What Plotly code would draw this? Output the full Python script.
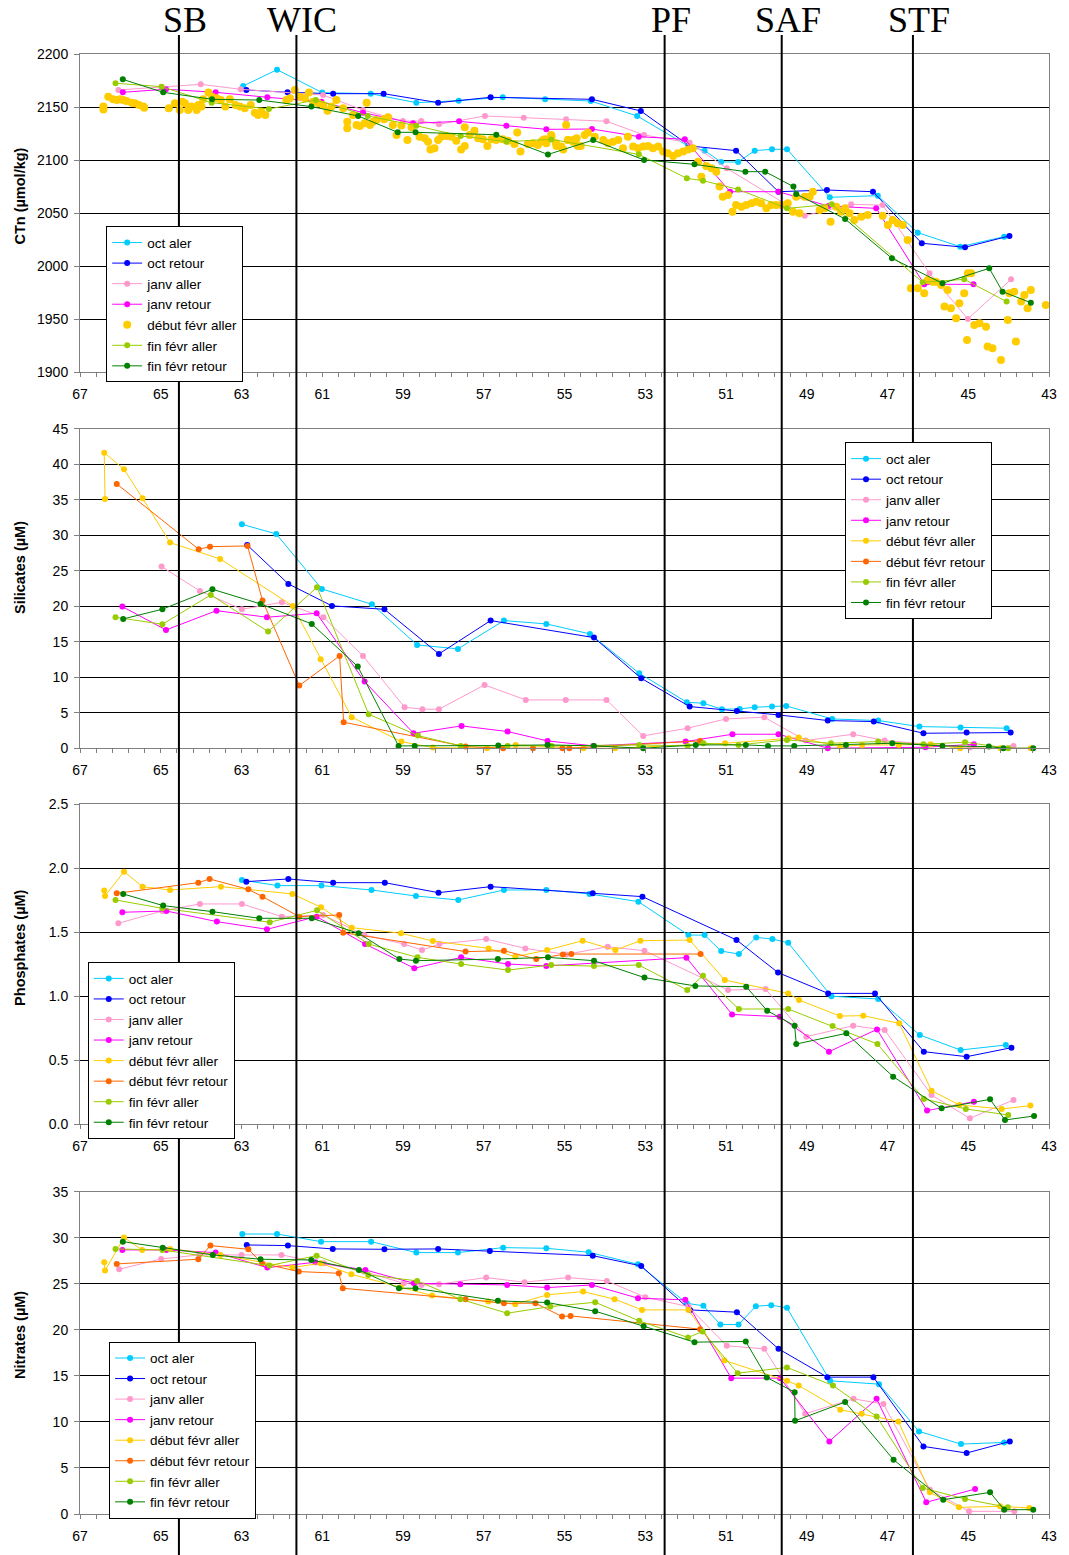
import plotly.graph_objects as go
from plotly.subplots import make_subplots

NAMES = ["oct aler", "oct retour", "janv aller", "janv retour",
         "début févr aller", "début févr retour", "fin févr aller", "fin févr retour"]
COLORS = ["#00CCFF", "#0000FF", "#FF99CC", "#FF00FF",
          "#FFCC00", "#FF6600", "#99CC00", "#008000"]

FRONTS = ["SB", "WIC", "PF", "SAF", "STF"]
FRONT_LAT = [64.55, 61.64, 52.52, 49.62, 46.37]

X_TICKS = [67, 65, 63, 61, 59, 57, 55, 53, 51, 49, 47, 45, 43]

# ---------------- CTn (umol/kg) ----------------
CTN_OCT_ALLER_LAT = [62.96, 62.12, 61.00, 59.80, 58.67, 57.62, 56.53, 55.48, 54.35, 53.20, 51.94, 51.53, 51.12, 50.70, 50.29, 49.86, 49.49, 48.43, 47.24, 46.25, 45.20, 44.11]
CTN_OCT_ALLER = [2169.8, 2185.2, 2163.6, 2162.6, 2154.1, 2156.0, 2159.2, 2157.3, 2155.7, 2141.6, 2113.3, 2108.9, 2098.2, 2098.2, 2108.9, 2110.2, 2110.2, 2064.9, 2066.5, 2031.6, 2018.4, 2027.8]
CTN_OCT_RETOUR_LAT = [62.88, 61.86, 60.73, 59.48, 58.13, 56.83, 54.32, 53.11, 51.90, 50.75, 49.70, 48.50, 47.36, 46.15, 45.08, 43.98]
CTN_OCT_RETOUR = [2166.1, 2163.9, 2162.6, 2162.6, 2154.1, 2159.2, 2157.3, 2146.3, 2113.3, 2108.9, 2070.2, 2071.8, 2070.2, 2021.6, 2017.8, 2028.5]
CTN_JANV_ALLER_LAT = [66.05, 64.98, 64.01, 63.02, 60.98, 59.99, 59.00, 58.55, 58.11, 56.97, 56.01, 54.96, 53.96, 53.03, 51.90, 50.98, 49.05, 47.90, 47.12, 45.96, 45.01, 43.94]
CTN_JANV_ALLER = [2166.1, 2169.2, 2171.4, 2166.7, 2161.3, 2147.2, 2136.8, 2136.8, 2133.7, 2141.6, 2140.0, 2138.5, 2136.6, 2123.7, 2116.4, 2092.2, 2047.6, 2058.3, 2057.6, 1993.3, 1950.2, 1987.6]
CTN_JANV_RETOUR_LAT = [65.94, 64.87, 63.64, 62.36, 61.02, 59.99, 58.75, 57.61, 56.44, 55.45, 54.32, 53.16, 52.02, 50.90, 49.70, 48.46, 47.28, 46.09, 44.87]
CTN_JANV_RETOUR = [2163.9, 2166.8, 2163.9, 2159.2, 2155.1, 2144.7, 2134.7, 2136.5, 2132.4, 2129.0, 2129.3, 2122.1, 2119.6, 2070.2, 2070.2, 2056.7, 2054.5, 1982.9, 1982.9]
CTN_DFEV_ALLER_LAT = [66.42, 66.42, 66.30, 66.18, 66.09, 66.01, 65.93, 65.85, 65.72, 65.64, 65.54, 65.43, 65.41, 64.80, 64.65, 64.53, 64.47, 64.40, 64.32, 64.24, 64.11, 64.07, 63.99, 63.95, 63.82, 63.73, 63.62, 63.51, 63.40, 63.29, 63.15, 63.04, 62.92, 62.77, 62.67, 62.59, 62.51, 62.41, 61.89, 61.80, 61.68, 61.56, 61.43, 61.33, 61.23, 61.10, 60.98, 60.87, 60.77, 60.65, 60.48, 60.38, 60.38, 60.24, 60.15, 60.07, 59.95, 59.90, 59.82, 59.74, 59.66, 59.47, 59.37, 59.25, 59.16, 59.04, 58.89, 58.79, 58.59, 58.46, 58.38, 58.32, 58.22, 58.13, 58.05, 57.93, 57.80, 57.68, 57.56, 57.47, 57.47, 57.35, 57.23, 57.14, 57.02, 56.91, 56.81, 56.69, 56.53, 56.40, 56.24, 56.17, 56.09, 55.91, 55.78, 55.66, 55.58, 55.49, 55.33, 55.21, 55.08, 54.96, 54.92, 54.79, 54.67,
                      55.53, 55.45, 55.32, 55.20, 55.03, 54.91, 54.79, 54.70, 54.60, 54.50, 54.42, 54.25, 54.04, 53.92, 53.80, 53.67, 53.55, 53.43, 53.30, 53.18, 53.05, 52.93, 52.81, 52.68, 52.56, 52.44, 52.31, 52.19, 52.06, 51.94, 51.82, 51.69, 51.61, 51.49, 51.36, 51.24, 51.16, 51.08, 50.95, 50.84, 50.75, 50.62, 50.50, 50.37, 50.25, 50.13, 50.00, 49.88, 49.76, 49.63, 49.47, 49.34, 49.26, 49.18, 49.05, 48.93, 48.85, 48.68, 48.56, 48.41, 48.27, 48.15, 48.05, 47.94, 47.82, 47.65, 47.49, 47.12, 46.99, 46.87, 46.75, 46.62, 46.50, 46.42, 46.25, 46.09, 46.00, 45.88, 45.80, 45.67, 45.59, 45.51, 45.43, 45.30, 45.22, 45.10, 45.01, 44.93, 45.03, 44.85, 44.72, 44.56, 44.52, 44.40, 44.19, 44.02, 43.98, 43.86, 43.82, 43.69, 43.61, 43.53, 43.45, 43.08]
CTN_DFEV_ALLER = [2150.4, 2147.8, 2159.8, 2157.3, 2156.6, 2157.3, 2156.6, 2155.7, 2154.1, 2153.5, 2151.9, 2150.4, 2149.4, 2148.8, 2153.5, 2147.2, 2155.1, 2153.5, 2147.2, 2150.4, 2147.2, 2151.9, 2150.4, 2157.3, 2163.6, 2159.8, 2158.2, 2156.6, 2150.4, 2157.3, 2151.9, 2150.4, 2148.8, 2151.9, 2144.7, 2142.5, 2145.6, 2142.5, 2156.6, 2158.2, 2166.1, 2159.8, 2158.2, 2163.6, 2155.1, 2153.5, 2151.9, 2146.6, 2150.4, 2156.6, 2148.8, 2136.2, 2129.9, 2142.5, 2133.1, 2132.1, 2134.7, 2154.1, 2133.1, 2136.2, 2137.8, 2138.4, 2140.3, 2133.1, 2123.7, 2132.5, 2118.9, 2130.9, 2122.1, 2120.5, 2117.4, 2110.1, 2111.1, 2118.9, 2122.1, 2122.7, 2122.1, 2118.3, 2110.1, 2113.3, 2130.9, 2123.7, 2127.7, 2120.5, 2119.6, 2113.3, 2119.6, 2118.9, 2119.6, 2118.3, 2115.2, 2125.9, 2108.0, 2115.2, 2115.8, 2114.2, 2117.4, 2119.6, 2123.7, 2115.8, 2112.7, 2133.1, 2118.9, 2118.9, 2113.3,
                  2118.9, 2115.8, 2122.1, 2113.3, 2110.1, 2118.9, 2117.4, 2120.5, 2113.3, 2123.7, 2125.9, 2122.1, 2118.9, 2115.8, 2117.4, 2118.9, 2111.1, 2122.1, 2112.7, 2111.1, 2112.7, 2113.3, 2111.1, 2112.7, 2108.0, 2106.4, 2103.9, 2106.4, 2108.0, 2110.1, 2111.1, 2098.5, 2084.4, 2094.4, 2092.2, 2089.1, 2075.0, 2065.5, 2067.1, 2051.4, 2057.7, 2056.1, 2057.7, 2059.3, 2060.8, 2059.3, 2054.5, 2057.7, 2057.7, 2057.7, 2059.3, 2051.4, 2065.5, 2049.8, 2065.5, 2065.5, 2070.2, 2053.0, 2054.5, 2042.0, 2056.1, 2051.4, 2054.5, 2049.8, 2043.5, 2046.7, 2048.3, 2047.6, 2038.8, 2043.5, 2040.4, 2038.8, 2024.7, 1979.1, 1979.1, 1974.4, 1986.9, 1985.4, 1985.4, 1982.3, 1961.9, 1977.6, 1960.3, 1950.9, 1965.0, 1974.4, 1993.3, 1993.3, 1930.5, 1944.6, 1946.2, 1943.0, 1924.2, 1922.6, 1911.6, 1949.3, 1974.4, 1976.0, 1928.9, 1966.6, 1972.9, 1960.3, 1977.6, 1963.4]
CTN_FFEV_ALLER_LAT = [66.12, 64.98, 63.74, 62.32, 61.16, 59.87, 58.67, 57.57, 56.44, 55.33, 53.16, 51.97, 51.57, 50.70, 49.49, 48.38, 46.13, 45.10, 44.05]
CTN_FFEV_ALLER = [2172.4, 2169.2, 2154.1, 2148.2, 2156.6, 2141.6, 2132.4, 2122.7, 2117.4, 2119.5, 2105.4, 2082.8, 2080.6, 2072.4, 2054.5, 2058.3, 1984.8, 1987.6, 1966.6]
CTN_FFEV_RETOUR_LAT = [65.94, 64.94, 63.73, 62.56, 61.27, 60.11, 59.13, 58.69, 56.69, 55.41, 54.29, 53.03, 51.78, 50.52, 50.03, 49.33, 49.26, 48.05, 46.89, 45.64, 44.48, 44.15, 43.45]
CTN_FFEV_RETOUR = [2176.1, 2163.9, 2157.3, 2156.6, 2150.4, 2141.6, 2126.2, 2126.2, 2123.9, 2105.3, 2118.9, 2100.1, 2096.0, 2089.1, 2089.1, 2075.0, 2068.1, 2044.5, 2007.4, 1983.9, 1998.0, 1976.0, 1965.6]

# ---------------- Silicates (uM) ----------------
SI_OCT_ALLER_LAT = [62.99, 62.14, 61.01, 59.77, 58.65, 57.64, 56.50, 55.45, 54.37, 53.15, 51.97, 51.56, 51.10, 50.66, 50.29, 49.86, 49.51, 48.37, 47.23, 46.21, 45.19, 44.05]
SI_OCT_ALLER = [31.56, 30.2, 22.45, 20.29, 14.56, 14.0, 17.99, 17.52, 16.11, 10.57, 6.48, 6.34, 5.50, 5.54, 5.78, 5.87, 5.96, 4.13, 3.90, 3.05, 2.91, 2.82]
SI_OCT_RETOUR_LAT = [62.86, 61.84, 60.76, 59.46, 58.11, 56.83, 54.27, 53.10, 51.90, 50.73, 49.70, 48.48, 47.34, 46.11, 45.04, 43.95]
SI_OCT_RETOUR = [28.65, 23.16, 20.06, 19.58, 13.29, 17.99, 15.59, 9.86, 5.87, 5.26, 4.70, 3.90, 3.76, 2.11, 2.21, 2.21]
SI_JANV_ALLER_LAT = [64.98, 64.03, 62.99, 62.00, 60.97, 59.99, 58.96, 58.52, 58.11, 56.98, 55.96, 54.97, 53.96, 53.05, 51.95, 51.00, 50.05, 49.03, 47.85, 47.07, 44.96, 43.88]
SI_JANV_ALLER = [25.6, 22.17, 19.58, 20.57, 18.46, 13.01, 5.78, 5.50, 5.50, 8.92, 6.81, 6.81, 6.81, 1.74, 2.82, 4.13, 4.37, 1.08, 1.97, 1.08, 0.09, 0.33]
SI_JANV_RETOUR_LAT = [65.95, 64.87, 63.62, 62.37, 61.14, 59.95, 58.74, 57.55, 56.41, 55.42, 54.29, 52.00, 50.84, 49.70, 48.48, 46.06, 44.86]
SI_JANV_RETOUR = [19.96, 16.67, 19.39, 18.46, 19.02, 9.39, 2.11, 3.15, 2.35, 1.03, 0.33, 0.94, 1.97, 1.97, 0.0, 0.14, 0.56]
SI_DFEV_ALLER_LAT = [66.38, 66.40, 65.91, 65.45, 64.77, 63.53, 61.73, 61.04, 60.27, 59.04, 58.26, 56.92, 56.21, 54.53, 53.75, 51.02, 49.45, 49.20, 48.17, 47.63, 46.72, 45.93, 45.20, 44.20, 43.45]
SI_DFEV_ALLER = [35.13, 41.66, 39.31, 35.23, 28.98, 26.68, 20.06, 12.54, 4.37, 0.94, 0.09, 0.0, 0.47, 0.0, 0.0, 0.70, 1.41, 1.50, 0.23, 0.47, 0.47, 0.56, 0.0, 0.0, 0.0]
SI_DFEV_RETOUR_LAT = [66.09, 64.06, 63.78, 62.85, 62.48, 61.57, 60.57, 60.47, 57.45, 56.52, 55.78, 55.05, 54.88, 51.64]
SI_DFEV_RETOUR = [37.25, 28.04, 28.41, 28.51, 20.81, 8.83, 13.01, 3.66, 0.23, 0.0, 0.0, 0.0, 0.0, 1.03]
SI_FFEV_ALLER_LAT = [66.12, 64.96, 63.76, 62.34, 61.13, 59.85, 58.63, 57.57, 56.41, 55.32, 53.15, 51.95, 51.56, 50.69, 49.49, 48.40, 47.23, 46.11, 45.08, 44.01]
SI_FFEV_ALLER = [18.46, 17.47, 21.61, 16.44, 22.69, 4.79, 1.78, 0.33, 0.33, 0.33, 0.47, 0.33, 0.70, 0.47, 1.17, 0.70, 0.94, 0.56, 0.85, 0.0]
SI_FFEV_RETOUR_LAT = [65.93, 64.96, 63.72, 62.53, 61.26, 60.12, 59.11, 58.71, 56.64, 55.42, 54.27, 53.05, 51.75, 50.51, 49.96, 49.31, 48.03, 46.88, 45.64, 44.49, 44.13, 43.39]
SI_FFEV_RETOUR = [18.22, 19.59, 22.40, 20.34, 17.52, 11.51, 0.33, 0.33, 0.38, 0.47, 0.33, 0.0, 0.47, 0.47, 0.33, 0.33, 0.47, 0.70, 0.33, 0.23, 0.0, 0.0]

# ---------------- Phosphates (uM) ----------------
PO4_OCT_ALLER_LAT = [62.99, 62.11, 61.02, 59.78, 58.68, 57.63, 56.50, 55.45, 54.38, 53.17, 51.93, 51.53, 51.12, 50.68, 50.25, 49.85, 49.46, 48.39, 47.23, 46.20, 45.19, 44.07]
PO4_OCT_ALLER = [1.907, 1.863, 1.863, 1.829, 1.782, 1.751, 1.829, 1.829, 1.798, 1.738, 1.477, 1.477, 1.352, 1.329, 1.459, 1.446, 1.417, 1.000, 0.978, 0.697, 0.580, 0.619]
PO4_OCT_RETOUR_LAT = [62.88, 61.84, 60.73, 59.45, 58.12, 56.83, 54.30, 53.07, 50.74, 49.71, 48.47, 47.31, 46.10, 45.04, 43.93]
PO4_OCT_RETOUR = [1.894, 1.915, 1.886, 1.886, 1.808, 1.855, 1.803, 1.777, 1.439, 1.184, 1.022, 1.022, 0.567, 0.528, 0.598]
PO4_JANV_ALLER_LAT = [66.05, 64.96, 64.03, 62.99, 62.00, 60.98, 59.96, 58.97, 58.53, 58.10, 56.94, 55.97, 54.96, 53.93, 53.02, 50.95, 50.02, 49.01, 47.85, 47.07, 45.91, 44.96, 43.88]
PO4_JANV_ALLER = [1.569, 1.665, 1.720, 1.720, 1.621, 1.634, 1.478, 1.407, 1.360, 1.407, 1.446, 1.373, 1.326, 1.386, 1.355, 1.048, 1.056, 0.684, 0.770, 0.736, 0.229, 0.047, 0.190]
PO4_JANV_RETOUR_LAT = [65.95, 64.86, 63.61, 62.37, 61.14, 59.94, 58.72, 57.56, 56.40, 55.45, 51.98, 50.85, 49.67, 48.45, 47.26, 46.02, 44.86]
PO4_JANV_RETOUR = [1.655, 1.665, 1.582, 1.522, 1.621, 1.407, 1.218, 1.303, 1.251, 1.236, 1.301, 0.858, 0.840, 0.567, 0.741, 0.107, 0.177]
PO4_DFEV_ALLER_LAT = [66.40, 66.38, 65.91, 65.45, 64.77, 63.51, 61.74, 61.03, 60.27, 59.05, 58.26, 56.88, 56.22, 55.43, 54.55, 53.74, 53.12, 51.90, 51.03, 49.46, 49.19, 48.18, 47.60, 46.71, 45.91, 45.22, 44.17, 43.46]
PO4_DFEV_ALLER = [1.824, 1.782, 1.972, 1.855, 1.829, 1.855, 1.798, 1.694, 1.535, 1.491, 1.431, 1.373, 1.308, 1.360, 1.433, 1.360, 1.433, 1.438, 1.126, 1.022, 0.970, 0.845, 0.848, 0.788, 0.263, 0.151, 0.120, 0.146]
PO4_DFEV_RETOUR_LAT = [66.09, 64.07, 63.79, 62.83, 62.48, 61.57, 60.58, 60.48, 57.45, 56.50, 55.70, 55.04, 54.83, 51.63]
PO4_DFEV_RETOUR = [1.803, 1.886, 1.915, 1.834, 1.777, 1.621, 1.634, 1.496, 1.348, 1.355, 1.290, 1.326, 1.329, 1.329]
PO4_FFEV_ALLER_LAT = [66.12, 64.96, 62.30, 61.13, 59.85, 58.64, 57.56, 56.40, 55.33, 54.27, 53.16, 51.96, 51.57, 50.68, 49.46, 48.36, 47.25, 46.10, 45.06, 44.01]
PO4_FFEV_ALLER = [1.751, 1.686, 1.577, 1.670, 1.407, 1.303, 1.251, 1.204, 1.243, 1.235, 1.243, 1.048, 1.160, 0.900, 0.900, 0.767, 0.627, 0.198, 0.120, 0.073]
PO4_FFEV_RETOUR_LAT = [65.93, 64.94, 63.72, 62.56, 61.26, 60.10, 59.09, 58.68, 56.65, 55.41, 54.27, 53.02, 51.76, 50.50, 49.98, 49.30, 49.26, 48.02, 46.86, 45.66, 44.46, 44.09, 43.37]
PO4_FFEV_RETOUR = [1.798, 1.707, 1.660, 1.608, 1.608, 1.491, 1.290, 1.277, 1.290, 1.303, 1.277, 1.145, 1.080, 1.074, 0.887, 0.770, 0.627, 0.710, 0.372, 0.125, 0.195, 0.034, 0.065]

# ---------------- Nitrates (uM) ----------------
NO3_OCT_ALLER_LAT = [62.98, 62.12, 61.03, 59.79, 58.67, 57.64, 56.52, 55.45, 54.40, 53.18, 51.97, 51.56, 51.14, 50.69, 50.26, 49.88, 49.49, 48.42, 47.21, 46.22, 45.18, 44.11]
NO3_OCT_ALLER = [30.40, 30.40, 29.57, 29.57, 28.38, 28.38, 28.92, 28.85, 28.42, 27.11, 22.88, 22.60, 20.57, 20.57, 22.56, 22.67, 22.38, 14.46, 14.10, 8.97, 7.59, 7.77]
NO3_OCT_RETOUR_LAT = [62.87, 61.85, 60.74, 59.46, 58.13, 56.85, 54.30, 53.10, 51.89, 50.73, 49.70, 48.49, 47.35, 46.11, 45.04, 43.97]
NO3_OCT_RETOUR = [29.21, 29.14, 28.78, 28.74, 28.78, 28.56, 28.05, 26.93, 22.16, 21.91, 17.93, 14.86, 14.86, 7.34, 6.62, 7.88]
NO3_JANV_ALLER_LAT = [66.03, 64.99, 64.05, 63.00, 62.01, 60.96, 59.97, 58.98, 58.54, 58.11, 56.94, 55.99, 54.91, 53.95, 53.00, 51.93, 50.98, 50.05, 49.04, 47.84, 47.10, 45.95, 44.98, 43.86]
NO3_JANV_ALLER = [26.57, 27.69, 28.13, 28.13, 28.13, 27.22, 26.32, 25.05, 24.87, 24.95, 25.67, 25.16, 25.67, 25.31, 23.54, 22.52, 18.26, 17.93, 10.88, 12.51, 11.93, 2.64, 0.29, 0.29]
NO3_JANV_RETOUR_LAT = [65.95, 64.86, 63.64, 62.36, 61.17, 59.93, 58.73, 57.58, 56.42, 55.43, 54.32, 53.18, 52.01, 50.87, 49.66, 48.44, 47.27, 46.04, 44.83]
NO3_JANV_RETOUR = [28.67, 28.67, 28.38, 26.75, 27.33, 26.50, 25.05, 24.95, 24.87, 24.58, 24.87, 23.43, 23.25, 14.75, 14.75, 7.88, 12.51, 1.27, 2.71]
NO3_DFEV_ALLER_LAT = [66.40, 66.38, 65.91, 65.46, 64.77, 63.52, 61.74, 61.04, 60.28, 59.06, 58.28, 56.89, 56.22, 55.43, 54.54, 53.76, 53.08, 51.93, 51.04, 49.49, 49.20, 48.17, 47.64, 46.73, 45.95, 45.23, 44.21, 43.49]
NO3_DFEV_ALLER = [27.33, 26.43, 30.01, 28.67, 28.78, 28.13, 26.75, 27.22, 26.03, 24.62, 23.72, 23.07, 22.78, 23.79, 24.15, 23.32, 22.16, 22.16, 16.67, 14.46, 13.95, 11.32, 10.88, 10.05, 2.35, 0.72, 0.83, 0.65]
NO3_DFEV_RETOUR_LAT = [66.09, 64.07, 63.77, 62.83, 62.49, 61.58, 60.59, 60.49, 57.45, 56.50, 55.72, 55.06, 54.85, 51.64]
NO3_DFEV_RETOUR = [27.15, 27.66, 29.14, 28.74, 27.22, 26.32, 26.14, 24.51, 23.32, 22.88, 22.88, 21.44, 21.51, 20.07]
NO3_FFEV_ALLER_LAT = [66.12, 64.96, 62.31, 61.14, 59.86, 58.65, 57.58, 56.42, 55.35, 54.24, 53.15, 51.94, 51.58, 50.71, 49.49, 48.35, 47.27, 46.13, 45.08, 44.02]
NO3_FFEV_ALLER = [28.78, 28.67, 26.97, 28.05, 25.96, 25.31, 23.32, 21.80, 22.52, 22.99, 20.97, 19.16, 19.81, 15.29, 15.91, 13.95, 10.59, 2.82, 1.63, 0.72]
NO3_FFEV_RETOUR_LAT = [65.94, 64.95, 63.71, 62.53, 61.27, 60.09, 59.10, 58.69, 56.65, 55.43, 54.24, 53.04, 51.78, 50.51, 49.99, 49.30, 49.29, 48.05, 46.85, 45.62, 44.46, 44.11, 43.39]
NO3_FFEV_RETOUR = [29.57, 28.92, 28.13, 27.66, 27.58, 26.50, 24.51, 24.51, 23.14, 22.96, 22.02, 20.39, 18.66, 18.73, 14.82, 13.23, 10.12, 12.15, 5.89, 1.55, 2.35, 0.47, 0.47]

PANELS = [
    [(CTN_OCT_ALLER_LAT, CTN_OCT_ALLER), (CTN_OCT_RETOUR_LAT, CTN_OCT_RETOUR),
     (CTN_JANV_ALLER_LAT, CTN_JANV_ALLER), (CTN_JANV_RETOUR_LAT, CTN_JANV_RETOUR),
     (CTN_DFEV_ALLER_LAT, CTN_DFEV_ALLER), None,
     (CTN_FFEV_ALLER_LAT, CTN_FFEV_ALLER), (CTN_FFEV_RETOUR_LAT, CTN_FFEV_RETOUR)],
    [(SI_OCT_ALLER_LAT, SI_OCT_ALLER), (SI_OCT_RETOUR_LAT, SI_OCT_RETOUR),
     (SI_JANV_ALLER_LAT, SI_JANV_ALLER), (SI_JANV_RETOUR_LAT, SI_JANV_RETOUR),
     (SI_DFEV_ALLER_LAT, SI_DFEV_ALLER), (SI_DFEV_RETOUR_LAT, SI_DFEV_RETOUR),
     (SI_FFEV_ALLER_LAT, SI_FFEV_ALLER), (SI_FFEV_RETOUR_LAT, SI_FFEV_RETOUR)],
    [(PO4_OCT_ALLER_LAT, PO4_OCT_ALLER), (PO4_OCT_RETOUR_LAT, PO4_OCT_RETOUR),
     (PO4_JANV_ALLER_LAT, PO4_JANV_ALLER), (PO4_JANV_RETOUR_LAT, PO4_JANV_RETOUR),
     (PO4_DFEV_ALLER_LAT, PO4_DFEV_ALLER), (PO4_DFEV_RETOUR_LAT, PO4_DFEV_RETOUR),
     (PO4_FFEV_ALLER_LAT, PO4_FFEV_ALLER), (PO4_FFEV_RETOUR_LAT, PO4_FFEV_RETOUR)],
    [(NO3_OCT_ALLER_LAT, NO3_OCT_ALLER), (NO3_OCT_RETOUR_LAT, NO3_OCT_RETOUR),
     (NO3_JANV_ALLER_LAT, NO3_JANV_ALLER), (NO3_JANV_RETOUR_LAT, NO3_JANV_RETOUR),
     (NO3_DFEV_ALLER_LAT, NO3_DFEV_ALLER), (NO3_DFEV_RETOUR_LAT, NO3_DFEV_RETOUR),
     (NO3_FFEV_ALLER_LAT, NO3_FFEV_ALLER), (NO3_FFEV_RETOUR_LAT, NO3_FFEV_RETOUR)],
]

Y_TITLES = ["CTn (µmol/kg)", "Silicates (µM)", "Phosphates (µM)", "Nitrates (µM)"]
Y_RANGES = [[1900, 2200], [0, 45], [0, 2.5], [0, 35]]
Y_DTICK = [50, 5, 0.5, 5]
Y_FORMAT = ["d", "d", ".1f", "d"]

# layout geometry (pixels -> paper)
W, H = 1069, 1555
ML, MR, MT, MB = 80, 20, 54, 41
DOMAINS = [[0.782, 1.0], [0.5245, 0.7432], [0.2669, 0.4863], [0.0, 0.2208]]
LEGEND_POS = [(0.027, 0.882), (0.7895, 0.734), (0.008, 0.378), (0.030, 0.118)]
TITLE_Y = [0.903, 0.6486, 0.3877, 0.1226]

FONT = "Liberation Sans, Arial, sans-serif"

fig = make_subplots(rows=4, cols=1)

for p, series in enumerate(PANELS):
    legend_id = "legend" if p == 0 else f"legend{p + 1}"
    for s, data in enumerate(series):
        if data is None:
            continue
        lat, val = data
        scatter_only = (p == 0 and s == 4)
        fig.add_trace(go.Scatter(
            x=lat, y=val, name=NAMES[s],
            mode="markers" if scatter_only else "lines+markers",
            line=dict(color=COLORS[s], width=1),
            marker=dict(color=COLORS[s], size=8 if scatter_only else 6,
                        symbol="circle", line=dict(width=0)),
            cliponaxis=False,
            legend=legend_id,
        ), row=p + 1, col=1)

    fig.update_xaxes(
        row=p + 1, col=1,
        range=[67, 43], tickmode="array", tickvals=X_TICKS,
        ticktext=[str(t) for t in X_TICKS],
        ticks="outside", ticklen=4, tickcolor="#808080",
        showline=True, linecolor="#808080", linewidth=1, mirror=True,
        showgrid=False, zeroline=False,
        minor=dict(tick0=43, dtick=0.4, ticks="outside", ticklen=4,
                   tickcolor="#808080", showgrid=False),
        tickfont=dict(family=FONT, size=14, color="black"),
        ticklabelstandoff=5,
    )
    fig.update_yaxes(
        row=p + 1, col=1,
        range=Y_RANGES[p], dtick=Y_DTICK[p], tick0=0, tickformat=Y_FORMAT[p],
        ticks="outside", ticklen=5, tickcolor="#808080",
        showline=True, linecolor="#808080", linewidth=1, mirror=True,
        showgrid=True, gridcolor="black", gridwidth=1, zeroline=False,
        tickfont=dict(family=FONT, size=14, color="black"),
        ticklabelstandoff=3,
        domain=DOMAINS[p],
    )

legend_common = dict(
    bgcolor="white", bordercolor="black", borderwidth=1,
    font=dict(family=FONT, size=13.5, color="black"),
    xanchor="left", yanchor="top", tracegroupgap=0,
    itemwidth=30,
)
fig.update_layout(
    legend=dict(x=LEGEND_POS[0][0], y=LEGEND_POS[0][1], **legend_common),
    legend2=dict(x=LEGEND_POS[1][0], y=LEGEND_POS[1][1], **legend_common),
    legend3=dict(x=LEGEND_POS[2][0], y=LEGEND_POS[2][1], **legend_common),
    legend4=dict(x=LEGEND_POS[3][0], y=LEGEND_POS[3][1], **legend_common),
)

shapes = []
annotations = []
for name, lat in zip(FRONTS, FRONT_LAT):
    xp = (67 - lat) / 24.0
    shapes.append(dict(type="line", xref="paper", yref="paper",
                       x0=xp, x1=xp, y0=-0.03, y1=1.013,
                       line=dict(color="black", width=2), layer="above"))
    annotations.append(dict(text=name, xref="paper", yref="paper",
                            x=xp, y=1.0233, xshift=6, showarrow=False,
                            xanchor="center", yanchor="middle",
                            font=dict(family="Liberation Serif, Times New Roman, serif",
                                      size=36, color="black")))
for t, ty in zip(Y_TITLES, TITLE_Y):
    annotations.append(dict(text=t, xref="paper", yref="paper",
                            x=-0.062, y=ty, textangle=-90, showarrow=False,
                            xanchor="center", yanchor="middle",
                            font=dict(family=FONT, size=14.5, color="black", weight="bold")))

fig.update_layout(
    width=W, height=H,
    margin=dict(l=ML, r=MR, t=MT, b=MB),
    paper_bgcolor="white", plot_bgcolor="white",
    shapes=shapes, annotations=annotations,
    showlegend=True,
)

fig.write_html("out.html",
               config={"displayModeBar": False},
               post_script="document.body.style.margin='0';document.body.style.padding='0';")
